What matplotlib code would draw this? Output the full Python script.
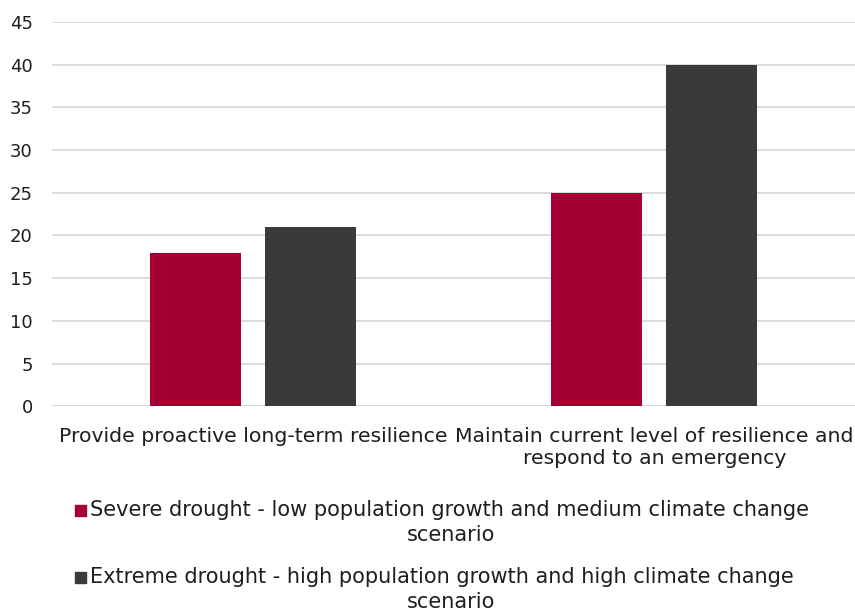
import numpy as np
import matplotlib.pyplot as plt
from matplotlib.patches import Rectangle

# data
categories = ["Provide proactive long-term resilience",
              "Maintain current level of resilience and\nrespond to an emergency"]
severe = [18, 25]
extreme = [21, 40]
series_names = ["Severe drought - low population growth and medium climate change\nscenario",
                "Extreme drought - high population growth and high climate change\nscenario"]
yticks = [0, 5, 10, 15, 20, 25, 30, 35, 40, 45]

red = "#A50034"
dark = "#3A3A3A"
txt = "#1E1E1E"

plt.rcParams['font.family'] = ['DejaVu Sans']
fig = plt.figure(figsize=(8.55, 6.10), dpi=100)
ax = fig.add_axes([0.061, 0.334, 0.939, 0.630])

x = np.arange(len(categories))
w = 0.227
ax.bar(x - 0.143, severe, w, color=red, zorder=3)
ax.bar(x + 0.143, extreme, w, color=dark, zorder=3)

ax.set_xlim(-0.5, 1.5)
ax.set_ylim(0, 45)
ax.set_yticks(yticks)
ax.yaxis.grid(True, color="#D9D9D9", linewidth=1.3, zorder=0)
ax.set_xticks(x)
ax.set_xticklabels(categories, fontsize=14.7, color=txt, linespacing=1.2)
ax.tick_params(axis='y', labelsize=13, colors=txt, length=0, pad=14)
ax.tick_params(axis='x', length=0, pad=15)
for lab in ax.get_xticklabels():
    lab.set_multialignment('center')
for s in ax.spines.values():
    s.set_visible(False)
ax.axhline(0, color="#D9D9D9", linewidth=1.3, zorder=2)

# legend drawn by hand so the square sits at the first line
colors = [red, dark]
ys = [510, 577]
for name, c, yy in zip(series_names, colors, ys):
    fy = 1 - yy / 610
    fig.patches.append(Rectangle((75 / 855, fy - 5.5 / 610), 11 / 855, 11 / 610,
                                 transform=fig.transFigure, color=c))
    first, second = name.split("\n")
    fig.text(90 / 855, fy, first, fontsize=15, color=txt, va='center', ha='left')
    fig.text(451 / 855, fy - 25 / 610, second, fontsize=15, color=txt, va='center', ha='center')

fig.savefig("out.png", dpi=100)
